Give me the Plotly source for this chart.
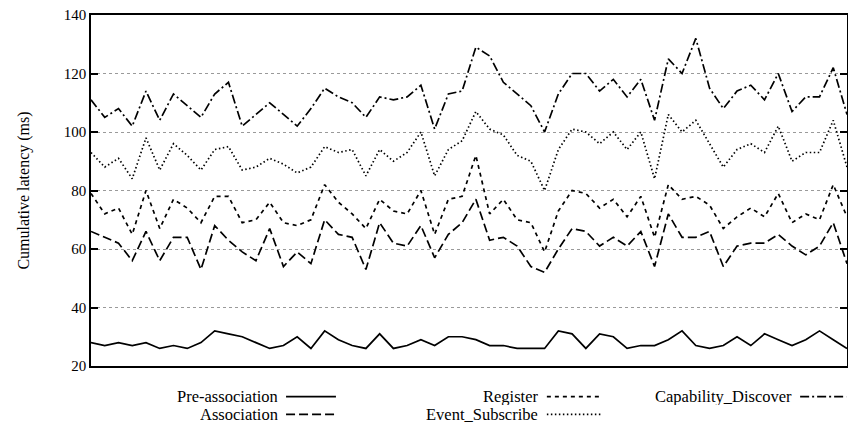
import plotly.graph_objects as go

x_index = list(range(56))

pre_association = [28, 27, 28, 27, 28, 26, 27, 26, 28, 32, 31, 30, 28, 26, 27, 30, 26, 32, 29, 27,
                   26, 31, 26, 27, 29, 27, 30, 30, 29, 27, 27, 26, 26, 26, 32, 31, 26, 31, 30, 26,
                   27, 27, 29, 32, 27, 26, 27, 30, 27, 31, 29, 27, 29, 32, 29, 26]
association = [66, 64, 62, 56, 66, 56, 64, 64, 53, 68, 63, 59, 56, 67, 54, 59, 55, 70, 65, 64,
               53, 69, 62, 61, 68, 57, 65, 69, 77, 63, 64, 61, 54, 52, 60, 67, 66, 61, 64, 61,
               66, 54, 72, 64, 64, 66, 54, 61, 62, 62, 65, 61, 58, 61, 69, 55]
register = [79, 72, 74, 65, 80, 67, 77, 74, 69, 78, 78, 69, 70, 76, 69, 68, 70, 82, 76, 72,
            67, 77, 73, 72, 80, 65, 77, 78, 92, 72, 77, 70, 69, 59, 73, 80, 79, 74, 77, 71,
            78, 64, 82, 77, 78, 75, 67, 71, 74, 71, 79, 69, 72, 70, 82, 71]
event_subscribe = [93, 88, 91, 84, 98, 87, 96, 92, 87, 94, 95, 87, 88, 91, 89, 86, 88, 95, 93, 94,
                   85, 94, 90, 93, 100, 85, 94, 97, 107, 101, 99, 92, 90, 80, 94, 101, 100, 96, 100, 94,
                   100, 84, 106, 100, 104, 96, 88, 94, 96, 93, 102, 90, 93, 93, 104, 88]
capability_discover = [111, 105, 108, 102, 114, 104, 113, 109, 105, 113, 117, 102, 106, 110, 106, 102, 108, 115, 112, 110,
                       105, 112, 111, 112, 116, 101, 113, 114, 129, 126, 117, 113, 109, 100, 113, 120, 120, 114, 118, 112,
                       118, 104, 125, 120, 132, 115, 108, 114, 116, 111, 120, 107, 112, 112, 122, 106]

series_names = ["Pre-association", "Association", "Register", "Event_Subscribe", "Capability_Discover"]
series_values = [pre_association, association, register, event_subscribe, capability_discover]
series_dash = ["solid", "9px,4px", "4px,4px", "1.5px,2.5px", "9px,3px,2px,3px"]

y_ticks = [20, 40, 60, 80, 100, 120, 140]

FONT = "Liberation Serif"

fig = go.Figure()
for name, vals, dash in zip(series_names, series_values, series_dash):
    fig.add_trace(go.Scatter(x=x_index, y=vals, mode="lines", name=name,
                             line=dict(color="black", width=1.7, dash=dash),
                             showlegend=False))

# manual legend (text right-aligned, sample line on the right, gnuplot style)
legend_slots = [
    (0.2487, -0.087, 0.258, 0.324),
    (0.2487, -0.138, 0.258, 0.324),
    (0.5926, -0.087, 0.603, 0.676),
    (0.5926, -0.138, 0.603, 0.676),
    (0.928, -0.087, 0.938, 0.999),
]
for slot, idx in zip(legend_slots, range(len(series_names))):
    tx, ty, lx0, lx1 = slot
    fig.add_annotation(x=tx, y=ty, xref="paper", yref="paper", text=series_names[idx],
                       showarrow=False, xanchor="right", yanchor="middle", height=17,
                       borderpad=0,
                       font=dict(family=FONT, size=16.5, color="black"))
    fig.add_shape(type="line", xref="paper", yref="paper", x0=lx0, x1=lx1, y0=ty, y1=ty,
                  line=dict(color="black", width=1.7, dash=series_dash[idx]))

fig.update_layout(
    width=848, height=429,
    margin=dict(l=91, r=1, t=15, b=63),
    paper_bgcolor="white", plot_bgcolor="white",
    font=dict(family=FONT, size=15, color="black"),
)
fig.update_xaxes(range=[0, 55], showticklabels=False, ticks="", showgrid=False,
                 zeroline=False, showline=True, linecolor="black", linewidth=1.5, mirror=True)
fig.update_yaxes(range=[20, 140], tickvals=y_ticks, ticks="inside", ticklen=7, tickwidth=1.5,
                 tickcolor="black", showgrid=True, gridcolor="#9a9a9a", gridwidth=1, griddash="dot",
                 zeroline=False, showline=True, linecolor="black", linewidth=1.5, mirror="ticks",
                 tickfont=dict(family=FONT, size=15), automargin=False,
                 title=dict(text="Cumulative latency (ms)", font=dict(family=FONT, size=16), standoff=30))

fig.write_html("out.html", config={"displayModeBar": False},
               post_script="document.body.style.margin='0px';document.body.style.overflow='hidden';")
